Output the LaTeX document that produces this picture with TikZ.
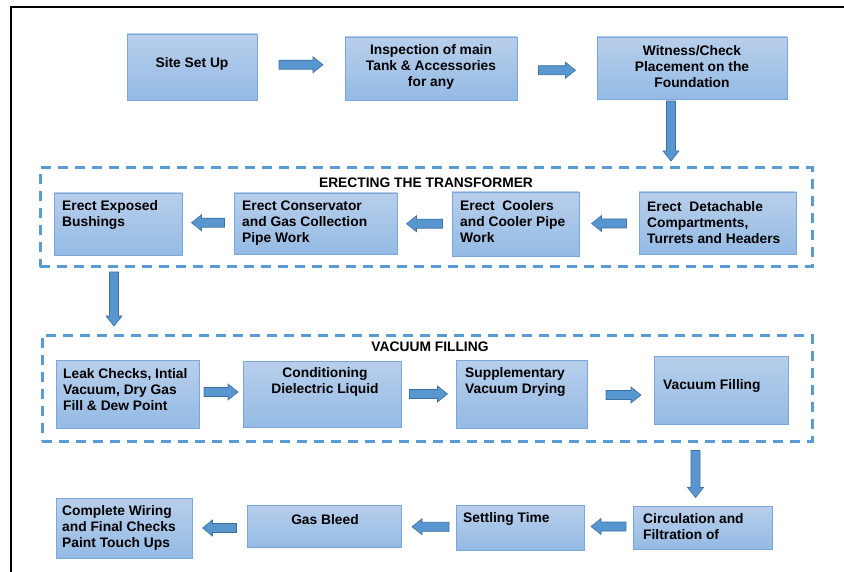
\documentclass[tikz,border=0pt]{standalone}
\usepackage{fontspec}
\setmainfont{Liberation Sans}
\usetikzlibrary{calc,fit}

\definecolor{boxtop}{RGB}{184,207,235}
\definecolor{boxbot}{RGB}{148,186,228}
\definecolor{boxline}{RGB}{122,166,218}
\definecolor{arrowfill}{RGB}{88,150,208}
\definecolor{arrowline}{RGB}{62,112,160}
\definecolor{groupline}{RGB}{91,155,213}

\tikzset{
  box/.style={draw=boxline, line width=0.9pt, top color=boxtop, bottom color=boxbot,
              inner sep=0pt, rectangle},
  group/.style={draw=groupline, line width=3pt, dash pattern=on 10pt off 7pt,
                inner sep=0pt, rectangle},
  txt/.style={inner sep=0pt, font=\fontsize{13.8}{16}\selectfont\bfseries},
  arrowbody/.style={fill=arrowfill, draw=arrowline, line width=0.6pt, line join=miter},
  frameline/.style={draw=black, line width=2.2pt},
  pics/blockarrow/.style={code={
    \path[arrowbody] (-#1/2,-4.5) -- (#1/2-10,-4.5) -- (#1/2-10,-8) -- (#1/2,0)
      -- (#1/2-10,8) -- (#1/2-10,4.5) -- (-#1/2,4.5) -- cycle;
  }}
}

\begin{document}
\begin{tikzpicture}[x=1pt,y=-1pt]
\useasboundingbox (0,0) rectangle (844,572);

% outer frame (top and left edges)
\path[frameline] (844,7) -- (11,7) -- (11,572);

% ---- first row ----
\node[box, fit={(127,34) (257,100)}] (site) {};
\node[box, fit={(345,37) (517,100)}] (insp) {};
\node[box, fit={(597,37) (787,99)}] (wit) {};
\node[txt] (t-site) at (192,64) {Site Set Up};
\node[txt, align=center] (t-insp) at (431,67) {Inspection of main\\Tank \& Accessories\\for any};
\node[txt, align=center] (t-wit) at (692,67) {Witness/Check\\Placement on the\\Foundation};

% ---- erecting group ----
\node[group, fit={(40,168) (812,267)}] (erect) {};
\node[txt] (t-erect) at (426,183) {ERECTING THE TRANSFORMER};
\node[box, fit={(54,193) (182,255)}] (bush) {};
\node[box, fit={(234,193) (397,254)}] (cons) {};
\node[box, fit={(452,192) (579,256)}] (cool) {};
\node[box, fit={(639,192) (796,254)}] (det) {};
\node[txt, align=left, anchor=west] (t-bush) at (62,215) {Erect Exposed\\Bushings};
\node[txt, align=left, anchor=west] (t-cons) at (242,223) {Erect Conservator\\and Gas Collection\\Pipe Work};
\node[txt, align=left, anchor=west] (t-cool) at (460,222) {Erect\ \ Coolers\\and Cooler Pipe\\Work};
\node[txt, align=left, anchor=west] (t-det) at (647,223) {Erect\ \ Detachable\\Compartments,\\Turrets and Headers};

% ---- vacuum filling group ----
\node[group, fit={(42,335) (812,441)}] (vac) {};
\node[txt] (t-vac) at (430,347) {VACUUM FILLING};
\node[box, fit={(56,360) (199,428)}] (leak) {};
\node[box, fit={(243,361) (401,427)}] (cond) {};
\node[box, fit={(456,360) (587,428)}] (supp) {};
\node[box, fit={(654,356) (788,424)}] (vfill) {};
\node[txt, align=left, anchor=west] (t-leak) at (63,390) {Leak Checks, Intial\\Vacuum, Dry Gas\\Fill \& Dew Point};
\node[txt, align=center] (t-cond) at (325,382) {Conditioning\\Dielectric Liquid};
\node[txt, align=left, anchor=west] (t-supp) at (465,382) {Supplementary\\Vacuum Drying};
\node[txt, anchor=west] (t-vfill) at (663,386) {Vacuum Filling};

% ---- last row ----
\node[box, fit={(56,498) (192,558)}] (wire) {};
\node[box, fit={(247,505) (401,547)}] (gas) {};
\node[box, fit={(456,505) (584,550)}] (settle) {};
\node[box, fit={(633,506) (772,549)}] (circ) {};
\node[txt, align=left, anchor=west] (t-wire) at (62,528) {Complete Wiring\\and Final Checks\\Paint Touch Ups};
\node[txt] (t-gas) at (325,520) {Gas Bleed};
\node[txt, anchor=west] (t-settle) at (463,519) {Settling Time};
\node[txt, align=left, anchor=west] (t-circ) at (643,527) {Circulation and\\Filtration of};

% ---- block arrows between steps ----
\pic at ($($(site.east)!.5!(insp.west)$)+(0,-3)$) {blockarrow=44};
\pic at ($($(insp.east)!.5!(wit.west)$)+(0,2)$) {blockarrow=37};
\pic[rotate=-90] at ($(wit.south)!.5!(wit.south |- erect.north)+(-21,-2)$) {blockarrow=60};

\pic[rotate=180] at ($(cons.west)!.5!(bush.east)+(0,-1)$) {blockarrow=33};
\pic[rotate=180] at ($(cool.west)!.5!(cons.east)$) {blockarrow=36};
\pic[rotate=180] at ($(det.west)!.5!(cool.east)$) {blockarrow=35};
\pic[rotate=-90] at ($(bush.south |- erect.south)!.5!(bush.south |- vac.north)+(-4,-2)$) {blockarrow=54};

\pic at ($(leak.east)!.5!(cond.west)+(0,-2)$) {blockarrow=34};
\pic at ($(cond.east)!.5!(supp.west)$) {blockarrow=38};
\pic at ($(supp.east)!.5!(vfill.west)+(3,3)$) {blockarrow=35};
\pic[rotate=-90] at ($(circ.north |- vac.south)!.5!(circ.north)+(-7,0)$) {blockarrow=47};

\pic[rotate=180] at ($(gas.west)!.5!(wire.east)+(0,1)$) {blockarrow=34};
\pic[rotate=180] at ($(settle.west)!.5!(gas.east)+(2,0)$) {blockarrow=37};
\pic[rotate=180] at ($(circ.west)!.5!(settle.east)+(0,-1)$) {blockarrow=35};
\end{tikzpicture}
\end{document}
